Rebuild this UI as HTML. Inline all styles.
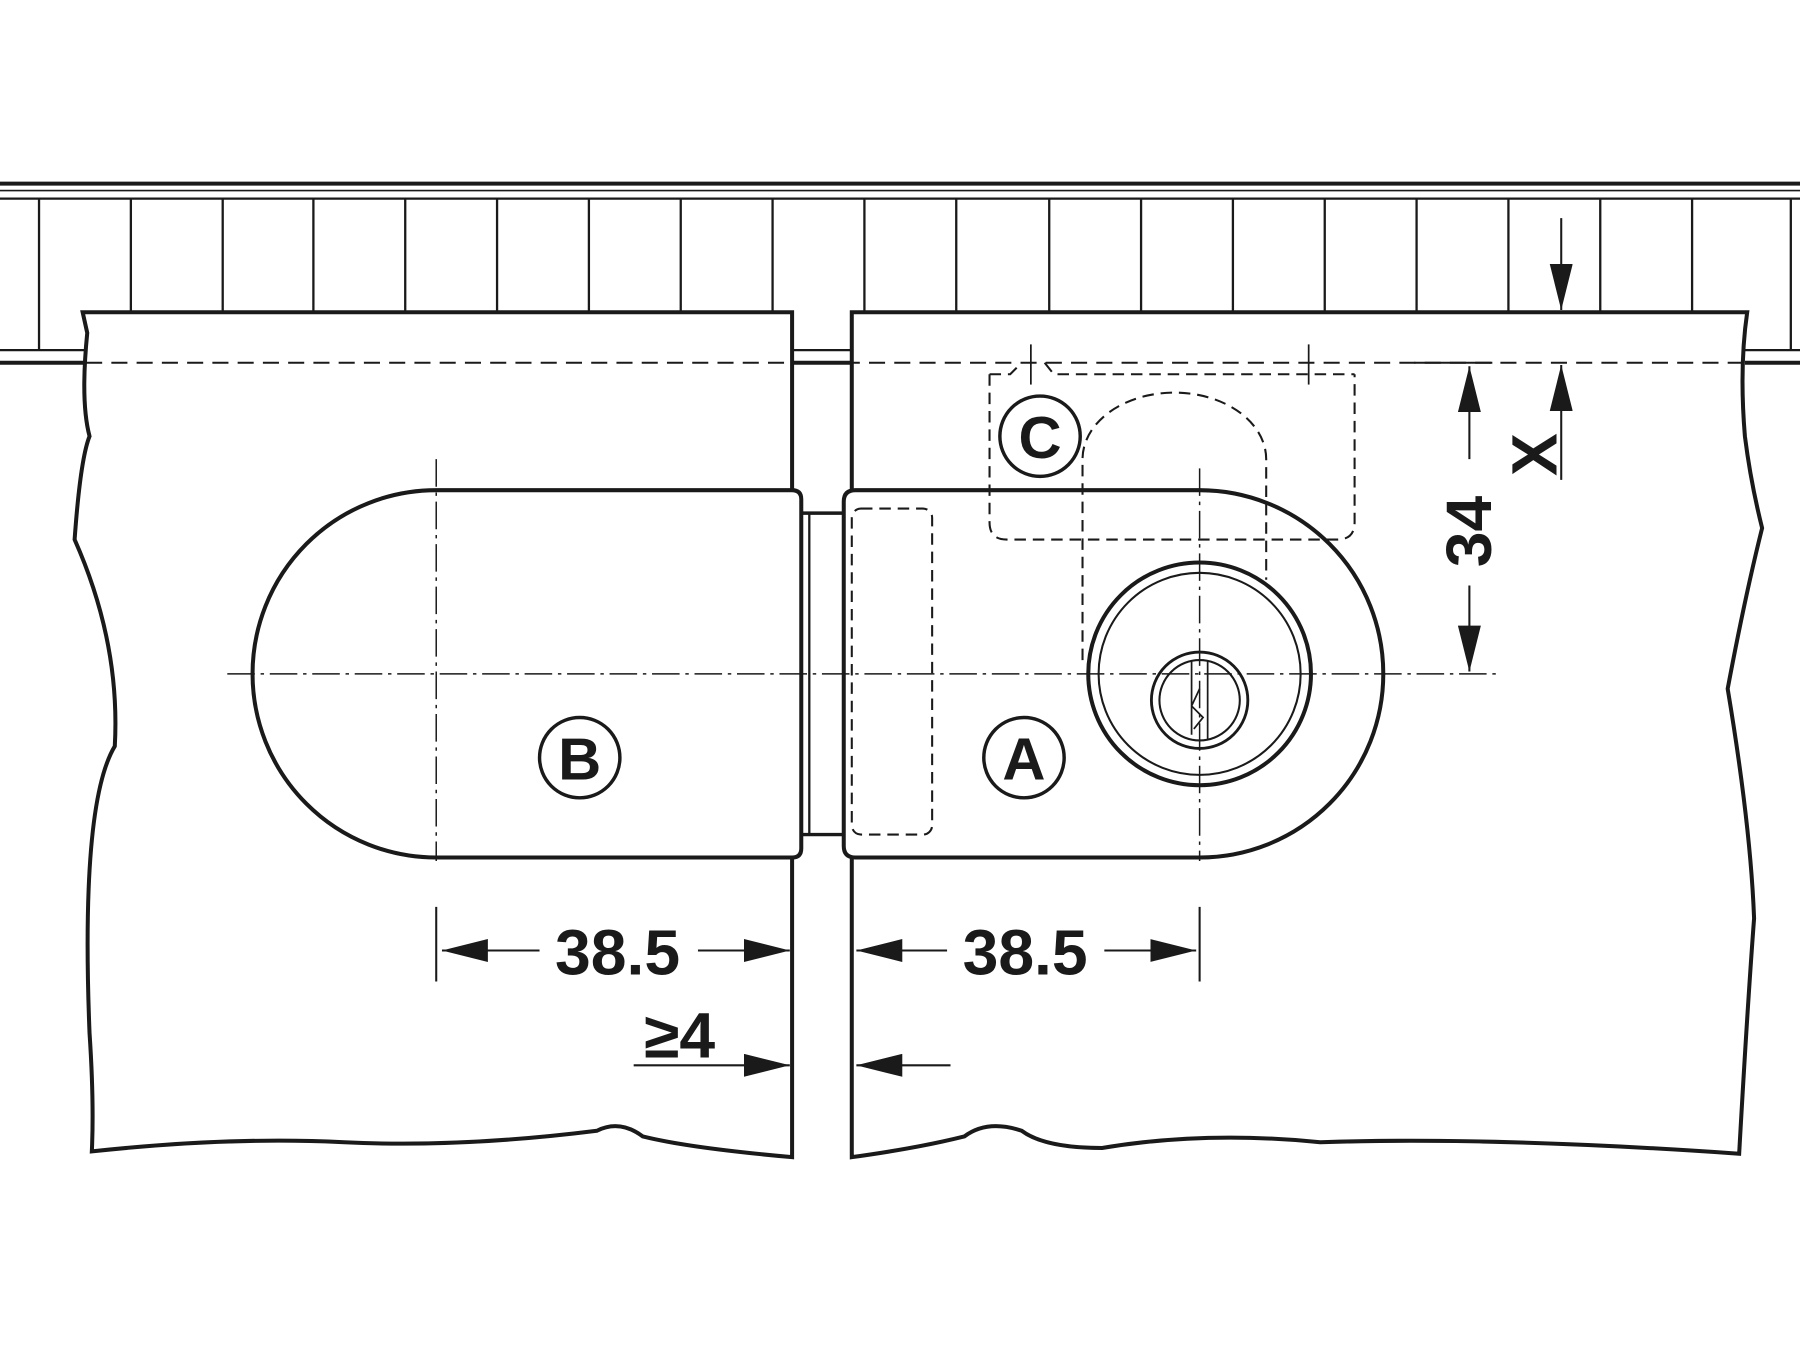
<!DOCTYPE html>
<html><head><meta charset="utf-8"><style>html,body{margin:0;padding:0;background:#fff}svg{display:block}</style></head><body>
<svg width="1800" height="1350" viewBox="0 0 1568 1176" xmlns="http://www.w3.org/2000/svg">
<defs>
<marker id="ar" viewBox="0 0 20 10" refX="20" refY="5" markerWidth="40" markerHeight="20" markerUnits="userSpaceOnUse" orient="auto"><path d="M0,0 L20,5 L0,10 Z" fill="#1a1a1a"/></marker>
</defs>
<rect width="1568" height="1176" fill="#fff"/>
<g stroke="#1a1a1a" fill="none">
<line x1="0" y1="160" x2="1568" y2="160" stroke-width="3.5"/>
<line x1="0" y1="166" x2="1568" y2="166" stroke-width="1.5"/>
<line x1="0" y1="173" x2="1568" y2="173" stroke-width="2"/>
<g stroke-width="2">
<line x1="34" y1="173" x2="34" y2="305"/><line x1="114" y1="173" x2="114" y2="272"/><line x1="194" y1="173" x2="194" y2="272"/><line x1="273" y1="173" x2="273" y2="272"/><line x1="353" y1="173" x2="353" y2="272"/><line x1="433" y1="173" x2="433" y2="272"/><line x1="513" y1="173" x2="513" y2="272"/><line x1="593" y1="173" x2="593" y2="272"/><line x1="673" y1="173" x2="673" y2="272"/><line x1="753" y1="173" x2="753" y2="272"/><line x1="833" y1="173" x2="833" y2="272"/><line x1="914" y1="173" x2="914" y2="272"/><line x1="994" y1="173" x2="994" y2="272"/><line x1="1074" y1="173" x2="1074" y2="272"/><line x1="1154" y1="173" x2="1154" y2="272"/><line x1="1234" y1="173" x2="1234" y2="272"/><line x1="1314" y1="173" x2="1314" y2="272"/><line x1="1394" y1="173" x2="1394" y2="272"/><line x1="1474" y1="173" x2="1474" y2="272"/><line x1="1560" y1="173" x2="1560" y2="305"/>
<line x1="0" y1="305" x2="75" y2="305"/><line x1="0" y1="316" x2="75" y2="316" stroke-width="3.5"/>
<line x1="1520" y1="305" x2="1568" y2="305"/><line x1="1520" y1="316" x2="1568" y2="316" stroke-width="3.5"/>
<line x1="690" y1="305" x2="742" y2="305"/><line x1="690" y1="316" x2="742" y2="316" stroke-width="3.5"/>
</g>
<path d="M72,272 L690,272 L690,1008 Q600,1000 560,990 Q540,975 520,985 Q400,1000 300,995 Q200,990 80,1003 Q82,960 78,900 Q70,700 100,650 Q105,560 65,470 Q70,400 78,380 Q70,350 76,290 Z" stroke-width="3.5" fill="#fff"/>
<path d="M742,272 L1522,272 Q1515,320 1520,380 Q1525,420 1535,460 Q1520,520 1505,600 Q1525,720 1528,800 Q1522,880 1515,1005 Q1300,990 1150,995 Q1050,985 960,1000 Q910,1000 890,985 Q860,975 840,990 Q800,1000 742,1008 Z" stroke-width="3.5" fill="#fff"/>
<line x1="75" y1="316" x2="1518" y2="316" stroke-width="1.8" stroke-dasharray="14,8"/>
<path d="M380,427 L690,427 Q698,427 698,435 L698,739 Q698,747 690,747 L380,747 A160,160 0 0 1 380,427 Z" stroke-width="3.5" fill="#fff"/>
<path d="M698,447 L735,447 M698,727 L735,727" stroke-width="3"/>
<line x1="705" y1="447" x2="705" y2="727" stroke-width="2"/>
<path d="M745,427 L1045,427 A160,160 0 0 1 1045,747 L745,747 Q735,747 735,737 L735,437 Q735,427 745,427 Z" stroke-width="3.5" fill="#fff"/>
<rect x="742" y="443" width="70" height="284" rx="8" stroke-width="1.8" stroke-dasharray="10,6"/>
<path d="M862,326 L862,455 Q862,470 877,470 L1165,470 Q1180,470 1180,455 L1180,326" stroke-width="1.8" stroke-dasharray="10,6"/>
<path d="M862,326 L880,326 L890,316 M910,316 L918,326 L1180,326" stroke-width="1.8" stroke-dasharray="10,6"/>
<line x1="898" y1="300" x2="898" y2="335" stroke-width="1.5"/><line x1="1140" y1="300" x2="1140" y2="335" stroke-width="1.5"/>
<path d="M943,575 L943,400 A80,58 0 0 1 1103,400 L1103,505" stroke-width="1.8" stroke-dasharray="10,6"/>
<circle cx="1045" cy="587" r="97" stroke-width="3.5" fill="#fff"/>
<circle cx="1045" cy="587" r="88" stroke-width="1.8"/>
<circle cx="1045" cy="610" r="42" stroke-width="2.5"/>
<circle cx="1045" cy="610" r="35" stroke-width="1.8"/>
<path d="M1038,575 L1038,640 M1052,575 L1052,645 M1045,600 L1038,615 L1048,625 L1040,635" stroke-width="1.5"/>
<g stroke-width="1.3" stroke-dasharray="24,5,3,5">
<line x1="198" y1="587" x2="1305" y2="587"/>
<line x1="380" y1="400" x2="380" y2="750"/>
<line x1="1045" y1="408" x2="1045" y2="750"/>
</g>
<circle cx="505" cy="660" r="35" stroke-width="3"/>
<circle cx="892" cy="660" r="35" stroke-width="3"/>
<circle cx="906" cy="380" r="35" stroke-width="3"/>
<g stroke-width="1.8">
<line x1="380" y1="790" x2="380" y2="855"/>
<line x1="1045" y1="790" x2="1045" y2="855"/>
<line x1="470" y1="828" x2="385" y2="828" marker-end="url(#ar)"/>
<line x1="608" y1="828" x2="688" y2="828" marker-end="url(#ar)"/>
<line x1="825" y1="828" x2="746" y2="828" marker-end="url(#ar)"/>
<line x1="962" y1="828" x2="1042" y2="828" marker-end="url(#ar)"/>
<line x1="552" y1="928" x2="688" y2="928" marker-end="url(#ar)"/>
<line x1="828" y1="928" x2="746" y2="928" marker-end="url(#ar)"/>
<line x1="1280" y1="400" x2="1280" y2="319" marker-end="url(#ar)"/>
<line x1="1280" y1="510" x2="1280" y2="585" marker-end="url(#ar)"/>
<line x1="1232" y1="316" x2="1300" y2="316"/>
<line x1="1360" y1="190" x2="1360" y2="270" marker-end="url(#ar)"/>
<line x1="1360" y1="418" x2="1360" y2="318" marker-end="url(#ar)"/>
</g>
</g>
<g font-family="Liberation Sans, sans-serif" font-weight="bold" fill="#1a1a1a" text-anchor="middle">
<text x="505" y="679" font-size="52">B</text>
<text x="892" y="679" font-size="52">A</text>
<text x="906" y="399" font-size="52">C</text>
<text x="538" y="849" font-size="56">38.5</text>
<text x="893" y="849" font-size="56">38.5</text>
<text x="592" y="921" font-size="56">≥4</text>
<text transform="translate(1299,463) rotate(-90)" font-size="56">34</text>
<text transform="translate(1356,396) rotate(-90)" font-size="56">X</text>
</g>
</svg>
</body></html>
